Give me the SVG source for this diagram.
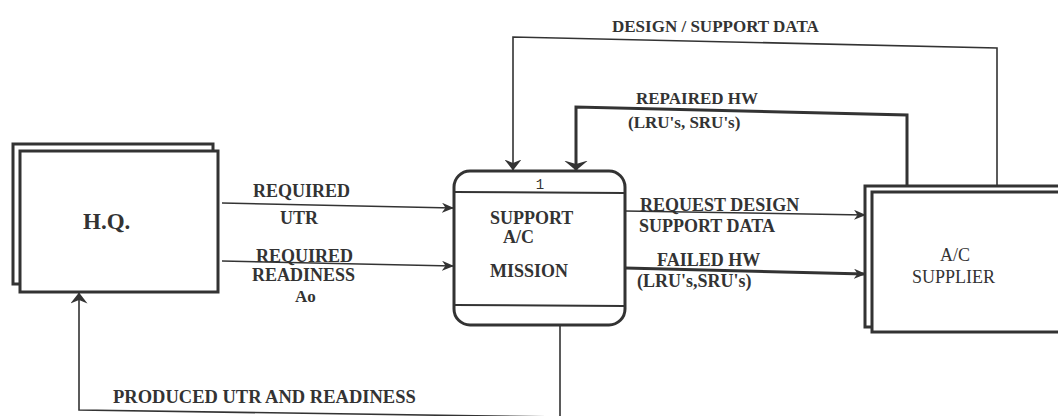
<svg xmlns="http://www.w3.org/2000/svg" width="1058" height="416" viewBox="0 0 1058 416">
  <style>
    .bg { fill: #ffffff; }
    .box { fill: #ffffff; stroke: #333333; stroke-width: 3; }
    .divider { fill: none; stroke: #333333; stroke-width: 2; }
    .flow { fill: none; stroke: #333333; stroke-width: 1.6; }
    .flow-heavy { fill: none; stroke: #333333; stroke-width: 3; }
    .lbl { font-family: "Liberation Serif", "Times New Roman", serif; font-weight: bold; font-size: 18px; fill: #333333; }
    .lbl-sm { font-size: 17px; }
    .num { font-family: "Liberation Mono", "Courier New", monospace; font-size: 14px; fill: #333333; }
  </style>
  <defs>
    <marker id="arrow" viewBox="0 0 12 10" refX="11" refY="5" markerWidth="12" markerHeight="10" markerUnits="userSpaceOnUse" orient="auto">
      <path d="M0,0 L12,5 L0,10 L3.5,5 Z" fill="#333333"/>
    </marker>
    <marker id="arrow-mid" viewBox="0 0 11 17" refX="10.5" refY="8.5" markerWidth="11" markerHeight="17" markerUnits="userSpaceOnUse" orient="auto">
      <path d="M0,0 L11,8.5 L0,17 L3.5,8.5 Z" fill="#333333"/>
    </marker>
    <marker id="arrow-wide" viewBox="0 0 10 24" refX="9.5" refY="12" markerWidth="10" markerHeight="24" markerUnits="userSpaceOnUse" orient="auto">
      <path d="M0,0 L10,12 L0,24 L3.5,12 Z" fill="#333333"/>
    </marker>
  </defs>

  <rect class="bg" x="0" y="0" width="1058" height="416"/>

  <!-- External entity: headquarters -->
  <g id="hq">
    <rect class="box" x="13" y="144" width="200" height="140"/>
    <rect class="box" x="20" y="151" width="198" height="141"/>
    <text class="lbl" x="83" y="229" style="font-size:23px">H.Q.</text>
  </g>

  <!-- Process 1 -->
  <g id="process-1">
    <rect class="box" x="454" y="171" width="171" height="154" rx="16" ry="16"/>
    <line class="divider" x1="455" y1="192" x2="624" y2="193"/>
    <line class="divider" x1="455" y1="305" x2="624" y2="306"/>
    <text class="num" x="540" y="189" text-anchor="middle">1</text>
    <text class="lbl" x="490" y="224">SUPPORT</text>
    <text class="lbl" x="503" y="243">A/C</text>
    <text class="lbl" x="490" y="277">MISSION</text>
  </g>

  <!-- External entity: aircraft supplier -->
  <g id="supplier">
    <rect class="box" x="865" y="186" width="220" height="141"/>
    <rect class="box" x="872" y="192" width="220" height="140"/>
    <text class="lbl" x="940" y="261" style="font-weight:normal">A/C</text>
    <text class="lbl" x="912" y="283" style="font-weight:normal">SUPPLIER</text>
  </g>

  <!-- Data flows -->
  <g id="connectors">
    <line class="flow" x1="222" y1="203" x2="453" y2="208" marker-end="url(#arrow)"/>
    <line class="flow" x1="222" y1="261" x2="453" y2="266" marker-end="url(#arrow)"/>
    <line class="flow" x1="625" y1="211" x2="865" y2="215" marker-end="url(#arrow)"/>
    <line class="flow-heavy" x1="625" y1="268" x2="865" y2="274" marker-end="url(#arrow)"/>
    <path class="flow" d="M997,186 L997,48 L513,37 L513,170" marker-end="url(#arrow-mid)"/>
    <path class="flow-heavy" d="M907,187 L907,115 L576,107 L576,170" marker-end="url(#arrow-wide)"/>
    <path class="flow" d="M560,326 L560,417 L79,410 L79,293" marker-end="url(#arrow-mid)"/>
  </g>

  <!-- Flow labels -->
  <g id="flow-labels">
    <text class="lbl" x="253" y="197">REQUIRED</text>
    <text class="lbl" x="280" y="224">UTR</text>
    <text class="lbl" x="256" y="262">REQUIRED</text>
    <text class="lbl" x="252" y="281">READINESS</text>
    <text class="lbl" x="295" y="302" style="font-size:17px">Ao</text>
    <text class="lbl" x="640" y="211">REQUEST DESIGN</text>
    <text class="lbl" x="639" y="232">SUPPORT DATA</text>
    <text class="lbl" x="657" y="266">FAILED HW</text>
    <text class="lbl" x="637" y="287">(LRU's,SRU's)</text>
    <text class="lbl lbl-sm" x="612" y="32">DESIGN / SUPPORT DATA</text>
    <text class="lbl lbl-sm" x="636" y="104">REPAIRED HW</text>
    <text class="lbl lbl-sm" x="628" y="128">(LRU's, SRU's)</text>
    <text class="lbl" x="113" y="403" style="font-size:18.5px">PRODUCED UTR AND READINESS</text>
  </g>
</svg>
